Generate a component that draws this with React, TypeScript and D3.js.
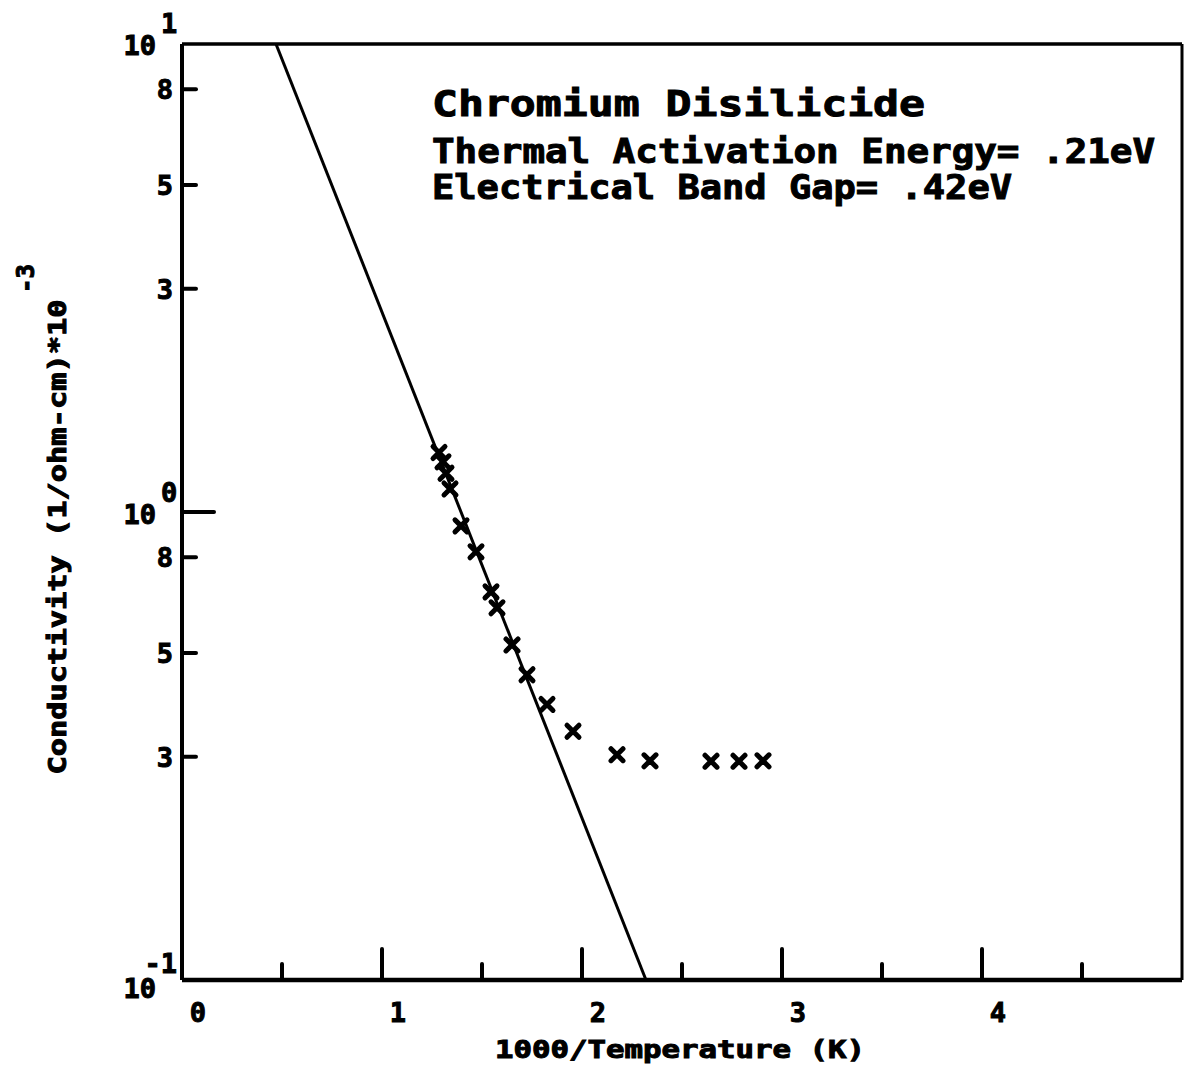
import * as d3 from 'd3';
import React, {useEffect, useRef} from 'react';

// measured points, 1000/T vs conductivity (x 1e-3 1/ohm-cm)
const invTemp = [1.285, 1.305, 1.32, 1.34, 1.395, 1.47, 1.545, 1.575, 1.65, 1.725, 1.825, 1.955, 2.175, 2.34, 2.645, 2.785, 2.905];
const conductivity = [1.34, 1.28, 1.21, 1.12, 0.934, 0.822, 0.675, 0.624, 0.52, 0.449, 0.388, 0.34, 0.303, 0.294, 0.2935, 0.2935, 0.294];

// fitted line end points
const fitX = [0.47, 2.32];
const fitY = [10, 0.1];

const xMajor = [1, 2, 3, 4];
const xMinor = [0.5, 1.5, 2.5, 3.5, 4.5];
const xLabels = [0, 1, 2, 3, 4];
const yMinor = [8, 5, 3, 0.8, 0.5, 0.3];
const yMinorLabels = ['8', '5', '3', '8', '5', '3'];
const yDecades = [10, 1, 0.1];
const yDecadeExp = ['1', '0', '-1'];

const title = 'Chromium Disilicide';
const notes = ['Thermal Activation Energy= .21eV', 'Electrical Band Gap= .42eV'];

const FONT = '"DejaVu Sans Mono", monospace';

export default function App() {
    const ref = useRef<SVGSVGElement>(null);

    useEffect(() => {
        const svg = d3.select(ref.current);
        svg.selectAll('*').remove();

        const left = 182, right = 1182, top = 44, bottom = 980;
        const x = d3.scaleLinear().domain([0, 5]).range([left, right]);
        const y = d3.scaleLog().domain([0.1, 10]).range([bottom, top]);

        const g = svg.append('g');

        // plotter text: bold glyphs with a thin stroke to thicken them
        const pen = (sel, size) => sel
            .style('font-family', FONT).style('font-weight', 'bold').style('font-size', size)
            .attr('fill', '#000').attr('stroke', '#000').attr('stroke-width', 1);

        // frame - left & bottom heavier
        g.append('line').attr('x1', left).attr('x2', right).attr('y1', top).attr('y2', top)
            .attr('stroke', '#000').attr('stroke-width', 3.5);
        g.append('line').attr('x1', right).attr('x2', right).attr('y1', top).attr('y2', bottom)
            .attr('stroke', '#000').attr('stroke-width', 3);
        g.append('line').attr('x1', left).attr('x2', left).attr('y1', top).attr('y2', bottom)
            .attr('stroke', '#000').attr('stroke-width', 4);
        g.append('line').attr('x1', left).attr('x2', right).attr('y1', bottom).attr('y2', bottom)
            .attr('stroke', '#000').attr('stroke-width', 4.5);

        // x ticks
        g.selectAll('.xmaj').data(xMajor).enter().append('line')
            .attr('x1', d => x(d)).attr('x2', d => x(d))
            .attr('y1', bottom).attr('y2', bottom - 31)
            .attr('stroke', '#000').attr('stroke-width', 4).attr('stroke-linecap', 'round');
        g.selectAll('.xmin').data(xMinor).enter().append('line')
            .attr('x1', d => x(d)).attr('x2', d => x(d))
            .attr('y1', bottom).attr('y2', bottom - 16)
            .attr('stroke', '#000').attr('stroke-width', 4).attr('stroke-linecap', 'round');
        g.selectAll('.xlab').data(xLabels).enter().append('text')
            .attr('x', d => x(d) + 16).attr('y', 1022)
            .attr('text-anchor', 'middle')
            .call(pen, '27px')
            .text(d => d);

        // y ticks
        g.selectAll('.ymin').data(yMinor).enter().append('line')
            .attr('x1', left).attr('x2', left + 14)
            .attr('y1', d => y(d)).attr('y2', d => y(d))
            .attr('stroke', '#000').attr('stroke-width', 4).attr('stroke-linecap', 'round');
        g.append('line').attr('x1', left).attr('x2', left + 32)
            .attr('y1', y(1)).attr('y2', y(1))
            .attr('stroke', '#000').attr('stroke-width', 4).attr('stroke-linecap', 'round');
        g.selectAll('.ylab').data(yMinor).enter().append('text')
            .attr('x', 165).attr('y', d => y(d) + 10)
            .attr('text-anchor', 'middle')
            .call(pen, '27px')
            .text((d, i) => yMinorLabels[i]);

        yDecades.forEach((v, i) => {
            const yy = i === 1 ? y(v) + 12 : i === 0 ? y(v) + 11 : y(v) + 18;
            g.append('text').attr('x', 156).attr('y', yy).attr('text-anchor', 'end')
                .call(pen, '27px')
                .text('10');
            g.append('text').attr('x', i === 2 ? 177 : 161).attr('y', i === 2 ? yy - 25 : yy - 22)
                .attr('text-anchor', i === 2 ? 'end' : 'start')
                .call(pen, '27px')
                .text(yDecadeExp[i]);
        });

        // fit line
        const line = d3.line<number>().x((d, i) => x(fitX[i])).y(d => y(d));
        g.append('path').datum(fitY).attr('d', line)
            .attr('fill', 'none').attr('stroke', '#000').attr('stroke-width', 3);

        // measured points as x marks
        const s = 6;
        g.selectAll('.pt').data(invTemp).enter().append('path')
            .attr('d', (d, i) => {
                const px = x(d), py = y(conductivity[i]);
                return `M${px - s},${py - s}L${px + s},${py + s}M${px - s},${py + s}L${px + s},${py - s}`;
            })
            .attr('stroke', '#000').attr('stroke-width', 5).attr('stroke-linecap', 'round');

        // annotation
        g.append('text').attr('x', 432).attr('y', 116)
            .attr('textLength', 493).attr('lengthAdjust', 'spacingAndGlyphs')
            .call(pen, '36px')
            .text(title);
        notes.forEach((t, i) => {
            g.append('text').attr('x', 432).attr('y', 163 + i * 36)
                .attr('textLength', i === 0 ? 723 : 580).attr('lengthAdjust', 'spacingAndGlyphs')
                .call(pen, '33px')
                .text(t);
        });

        // axis titles
        g.append('text').attr('x', 680).attr('y', 1058).attr('text-anchor', 'middle')
            .attr('textLength', 370).attr('lengthAdjust', 'spacingAndGlyphs')
            .call(pen, '24px')
            .text('1000/Temperature (K)');
        g.append('text').attr('transform', 'translate(66, 537) rotate(-90)').attr('text-anchor', 'middle')
            .attr('textLength', 475).attr('lengthAdjust', 'spacingAndGlyphs')
            .call(pen, '24px')
            .text('Conductivity (1/ohm-cm)*10');
        g.append('text').attr('transform', 'translate(34, 293) rotate(-90)').attr('text-anchor', 'start')
            .call(pen, '24px')
            .text('-3');
    }, []);

    return (
        <svg ref={ref} width={1193} height={1069}
            style={{position: 'absolute', left: 0, top: 0, background: '#fff'}} />
    );
}
